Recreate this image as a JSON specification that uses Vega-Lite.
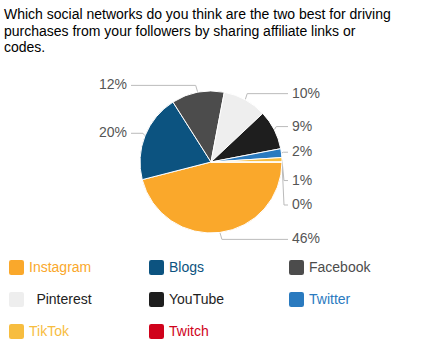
{
  "$schema": "https://vega.github.io/schema/vega-lite/v6.json",
  "width": 422,
  "height": 352,
  "autosize": {"type": "fit", "contains": "padding"},
  "padding": {"left": 4, "right": 4, "top": 8, "bottom": 13},
  "background": "#ffffff",
  "config": {"view": {"stroke": null}},
  "title": {
    "text": [
      "Which social networks do you think are the two best for driving",
      "purchases from your followers by sharing affiliate links or",
      "codes."
    ],
    "anchor": "start",
    "frame": "bounds",
    "font": "Liberation Sans",
    "fontSize": 14,
    "fontWeight": "normal",
    "color": "#000000",
    "lineHeight": 16.5,
    "offset": 11
  },
  "data": {
    "values": [
      {"category": "Instagram", "share": 0.46},
      {"category": "Blogs", "share": 0.20},
      {"category": "Facebook", "share": 0.12},
      {"category": "Pinterest", "share": 0.10},
      {"category": "YouTube", "share": 0.09},
      {"category": "Twitter", "share": 0.02},
      {"category": "TikTok", "share": 0.01},
      {"category": "Twitch", "share": 0.0}
    ]
  },
  "transform": [
    {"window": [{"op": "row_number", "as": "rank"}]},
    {"stack": "share", "groupby": [], "sort": [{"field": "rank", "order": "ascending"}], "as": ["s0", "s1"]}
  ],
  "layer": [
    {
      "mark": {"type": "rule", "stroke": "#BBBBBB", "strokeWidth": 1},
      "encoding": {
        "x": {"value": {"expr": "width/2 + 71*cos(PI*(datum.s0+datum.s1))"}},
        "y": {"value": {"expr": "height/2 + 71*sin(PI*(datum.s0+datum.s1))"}},
        "x2": {"value": {"expr": "width/2 + 71*cos(PI*(datum.s0+datum.s1)) + (cos(PI*(datum.s0+datum.s1)) >= 0 ? 2 : -2)"}},
        "y2": {"value": {"expr": "height/2 + 78*sin(PI*(datum.s0+datum.s1)) + (datum.category === 'TikTok' ? 21 : datum.category === 'Twitch' ? 43 : 0)"}}
      }
    },
    {
      "mark": {"type": "rule", "stroke": "#BBBBBB", "strokeWidth": 1},
      "encoding": {
        "x": {"value": {"expr": "width/2 + 71*cos(PI*(datum.s0+datum.s1)) + (cos(PI*(datum.s0+datum.s1)) >= 0 ? 2 : -2)"}},
        "y": {"value": {"expr": "height/2 + 78*sin(PI*(datum.s0+datum.s1)) + (datum.category === 'TikTok' ? 21 : datum.category === 'Twitch' ? 43 : 0)"}},
        "x2": {"value": {"expr": "width/2 + (cos(PI*(datum.s0+datum.s1)) >= 0 ? 77 : -80)"}},
        "y2": {"value": {"expr": "height/2 + 78*sin(PI*(datum.s0+datum.s1)) + (datum.category === 'TikTok' ? 21 : datum.category === 'Twitch' ? 43 : 0)"}}
      }
    },
    {
      "mark": {"type": "arc", "outerRadius": 71, "stroke": "#ffffff", "strokeWidth": 1},
      "encoding": {
        "theta": {"field": "share", "type": "quantitative", "stack": true, "scale": {"range": [1.5708, 7.8540]}},
        "order": {"field": "rank", "type": "quantitative"},
        "color": {
          "field": "category",
          "type": "nominal",
          "scale": {
            "domain": ["Instagram", "Blogs", "Facebook", "Pinterest", "YouTube", "Twitter", "TikTok", "Twitch"],
            "range": ["#FAA82B", "#0C5380", "#4C4C4C", "#EEEEEE", "#1E1E1E", "#2A7ABF", "#F7BD3F", "#D0021B"]
          },
          "legend": {
            "orient": "bottom",
            "direction": "horizontal",
            "columns": 3,
            "title": null,
            "gridAlign": "all",
            "symbolType": "M -0.7 -1 L 0.7 -1 Q 1 -1 1 -0.7 L 1 0.7 Q 1 1 0.7 1 L -0.7 1 Q -1 1 -1 0.7 L -1 -0.7 Q -1 -1 -0.7 -1 Z",
            "symbolSize": 225,
            "symbolStrokeWidth": 0,
            "symbolOpacity": 1,
            "symbolOffset": 5,
            "labelFont": "Liberation Sans",
            "labelFontSize": 14,
            "labelOffset": 5,
            "columnPadding": 52,
            "rowPadding": 17,
            "offset": 2,
            "labelExpr": "datum.value === 'Pinterest' ? '\\u200b\\u00a0\\u2005' + datum.label : datum.label",
            "labelColor": {"expr": "datum.value === 'Pinterest' ? '#222222' : scale('color', datum.value)"}
          }
        }
      }
    },
    {
      "mark": {
        "type": "text",
        "font": "Liberation Sans",
        "fontSize": 14,
        "fill": "#555555",
        "baseline": "middle",
        "align": {"expr": "cos(PI*(datum.s0+datum.s1)) >= 0 ? 'left' : 'right'"},
        "x": {"expr": "width/2 + (cos(PI*(datum.s0+datum.s1)) >= 0 ? 81 : -84)"},
        "y": {"expr": "height/2 + 78*sin(PI*(datum.s0+datum.s1)) + (datum.category === 'TikTok' ? 21 : datum.category === 'Twitch' ? 43 : 0)"}
      },
      "encoding": {
        "text": {"field": "share", "type": "quantitative", "format": ".0%"}
      }
    }
  ]
}
